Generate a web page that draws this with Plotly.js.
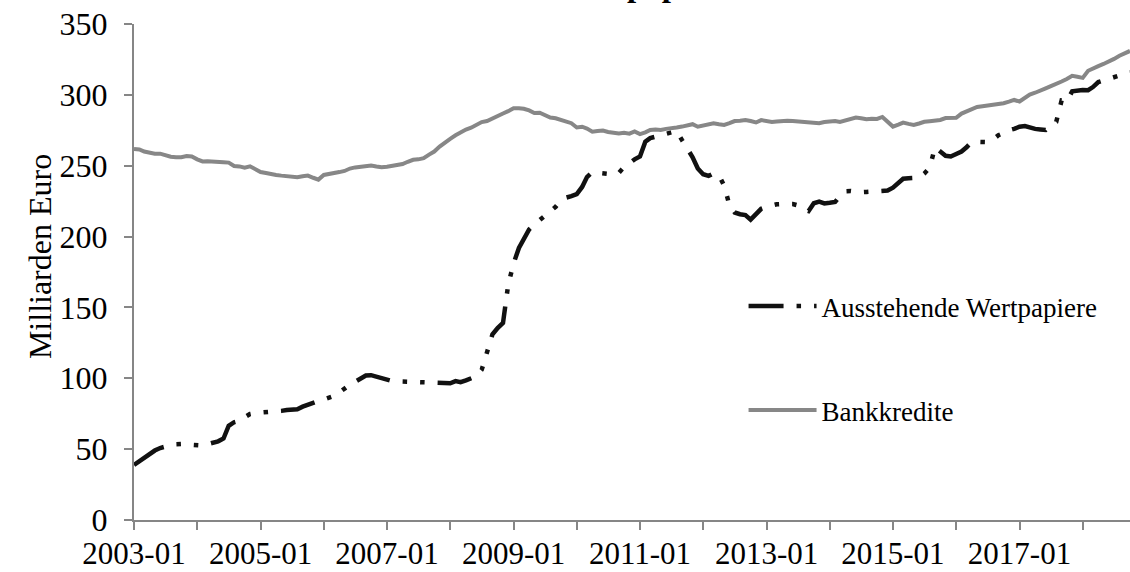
<!DOCTYPE html>
<html>
<head>
<meta charset="utf-8">
<script src="https://cdn.plot.ly/plotly-3.0.1.min.js"></script>
<style>html,body{margin:0;padding:0;background:#fff;}#chart{width:1130px;height:572px;}</style>
</head>
<body>
<div id="chart"></div>
<script>
// Monthly series starting 2003-01
const startYear = 2003;
const startMonth = 1;
const seriesNames = ['Ausstehende Wertpapiere', 'Bankkredite'];
const titleText = 'Ausstehende Wertpapiere und Bankkredite';
const yAxisLabel = 'Milliarden Euro';

const wertpapiere = [
  38.8, 41.5, 44, 46.5, 49, 50.8, 52, 52.8, 53.5, 54, 53.8, 53,
  52.4, 52.5, 53.5, 54.3, 55.5, 57.5, 66.5, 69, 70, 72.5, 74.8, 75.5,
  75.8, 75.6, 75.7, 76.2, 77, 77.6, 77.8, 78.2, 80, 81.4, 83, 84,
  85, 86.5, 87.5, 90, 93, 95.5, 97.5, 99.5, 102, 102.2, 101.2, 100,
  98.6, 98, 97.8, 97.6, 97.6, 97.6, 97.5, 97.4, 97.3, 97, 96.3, 96,
  96.5, 98, 97.2, 98.5, 100, 101.5, 106, 120, 131, 135.5, 139, 166,
  181, 192, 199, 205, 208.5, 211.5, 214.5, 217.5, 221, 225.5, 227.5, 228.5,
  230, 235, 242, 245.5, 245.3, 244.8, 244.3, 243.7, 245, 249, 252, 254.5,
  256.5, 267, 269.5, 270.8, 271.5, 272.5, 273.5, 274.5, 268, 262, 256, 248,
  244, 242.8, 244.6, 243.2, 236, 222, 217, 215.8, 215.2, 212, 216, 219.6,
  221, 222, 222.8, 223, 223, 223, 222, 219.5, 218, 223.5, 224.6, 223.4,
  223.8, 224.4, 228.5, 232, 232.2, 231.6, 231.3, 231.5, 231.7, 231.9, 232, 232.5,
  234.5, 238, 240.8, 241.2, 241.4, 241.6, 244.5, 248.5, 263, 260.5, 257, 256.5,
  258.5, 260, 263, 267, 266.8, 266.5, 266.6, 268.5, 271.5, 273, 275, 276,
  277.5, 278, 276.8, 276, 275.6, 275.2, 278.5, 281, 296, 295.5, 302.5, 303.2,
  303.4, 303.3, 305.5, 309, 310.2, 311.2, 312.3, 313.5, 315, 316
];

const bankkredite = [
  261.8, 261.5, 260, 259, 258.5, 258.5, 257.5, 256.3, 256, 256, 256.8, 256.5,
  254.5, 253, 253.2, 253.2, 252.5, 252.5, 252.2, 249.8, 249.5, 248.6, 249.6, 247.5,
  245.5, 244.8, 244, 243.5, 243, 242.5, 242.3, 241.8, 242.5, 243, 241.5, 240.2,
  243.5, 244, 244.3, 245.5, 246.3, 248, 248.8, 249.3, 249.5, 250.2, 249.5, 249,
  249.3, 249.8, 250.3, 251.2, 252.8, 254.2, 254.5, 255.3, 257.8, 260, 263.5, 266.5,
  269, 271.5, 273.8, 275.5, 276.8, 278.5, 280.8, 281.5, 283.5, 285.2, 286.8, 288.5,
  290.5, 290.6, 290.2, 289, 287.2, 287.4, 285.5, 284, 283.5, 282.5, 281, 280,
  277, 277.5, 276.2, 274, 274.5, 274.8, 273.8, 273.2, 272.8, 273.2, 272.6, 274.2,
  272.3, 273.5, 275.2, 275.5, 275.2, 276, 276.2, 277, 277.6, 278.2, 279.3, 277.5,
  278.3, 279.5, 280, 279.3, 278.8, 280, 281.5, 281.8, 282.2, 281.5, 280.5, 282.2,
  281.2, 280.9, 281.2, 281.6, 281.8, 281.6, 281.4, 281.1, 280.6, 280.2, 280, 280.8,
  281.3, 281.6, 280.9, 281.8, 283.2, 284, 283.5, 282.8, 283.2, 283, 284.4, 281,
  277.6, 279, 280.4, 279.5, 278.8, 279.8, 281, 281.4, 281.8, 282.3, 283.6, 283.5,
  283.8, 286.8, 288.5, 289.8, 291.5, 292, 292.4, 292.8, 293.4, 294.1, 295.2, 296.4,
  295.3, 298, 300.2, 301.5, 303.4, 304.6, 306.2, 307.6, 309.4, 311.2, 313.4, 312.8,
  312, 317, 318.8, 320.3, 321.8, 323.4, 325.4, 327.6, 329.5, 331
];

function monthLabel(i) {
  const m0 = (startMonth - 1) + i;
  const y = startYear + Math.floor(m0 / 12);
  const m = (m0 % 12) + 1;
  return y + '-' + (m < 10 ? '0' + m : '' + m);
}
const months = wertpapiere.map((_, i) => monthLabel(i));

const serif = 'Liberation Serif, Times New Roman, serif';
const axisGrey = '#868686';

const traces = [
  {
    x: months, y: wertpapiere, type: 'scatter', mode: 'lines',
    name: seriesNames[0], legendgroup: 'a',
    line: {color: '#111111', width: 4.5, dash: '35px,13px,4.5px,13px,4.5px,13px'},
    hoverinfo: 'skip'
  },
  {
    x: months, y: bankkredite, type: 'scatter', mode: 'lines',
    name: seriesNames[1], legendgroup: 'b',
    line: {color: '#878787', width: 4},
    hoverinfo: 'skip'
  }
];

const layout = {
  width: 1130, height: 572,
  margin: {l: 134, r: 0, t: 24, b: 52},
  paper_bgcolor: '#ffffff', plot_bgcolor: '#ffffff',
  font: {family: serif, color: '#000000', size: 32},
  showlegend: true,
  legend: {
    x: 0.612, y: 0.48, xanchor: 'left', yanchor: 'top',
    font: {family: serif, size: 27, color: '#000'},
    bgcolor: 'rgba(0,0,0,0)', tracegroupgap: 66, itemwidth: 68
  },
  xaxis: {
    type: 'date',
    range: [months[0] + '-01', months[months.length - 1] + '-01'],
    tick0: months[0] + '-01', dtick: 'M24', tickformat: '%Y-%m',
    ticks: 'outside', ticklen: 8, tickwidth: 2, tickcolor: axisGrey,
    minor: {dtick: 'M12', ticks: 'outside', ticklen: 8, tickwidth: 2, tickcolor: axisGrey, showgrid: false},
    showline: true, linecolor: axisGrey, linewidth: 2,
    showgrid: false, zeroline: false,
    ticklabelstandoff: -3,
    tickfont: {family: serif, size: 31, color: '#000'}
  },
  yaxis: {
    range: [0, 350], dtick: 50, tick0: 0,
    ticks: 'outside', ticklen: 8, tickwidth: 2, tickcolor: axisGrey,
    showline: true, linecolor: axisGrey, linewidth: 2,
    showgrid: false, zeroline: false,
    tickfont: {family: serif, size: 32, color: '#000'},
    ticklabelstandoff: 10
  },
  annotations: [
    {
      text: yAxisLabel, textangle: -90,
      xref: 'paper', yref: 'paper', x: -0.0944, y: 0.532,
      xanchor: 'center', yanchor: 'middle', showarrow: false,
      font: {family: serif, size: 32, color: '#000'}
    },
    {
      text: '<b>' + titleText + '</b>',
      xref: 'paper', yref: 'paper', x: 0.235, y: 1.038,
      xanchor: 'left', yanchor: 'bottom', showarrow: false,
      font: {family: serif, size: 33, color: '#000'}
    }
  ]
};

Plotly.newPlot('chart', traces, layout, {staticPlot: true, displayModeBar: false});
</script>
</body>
</html>
